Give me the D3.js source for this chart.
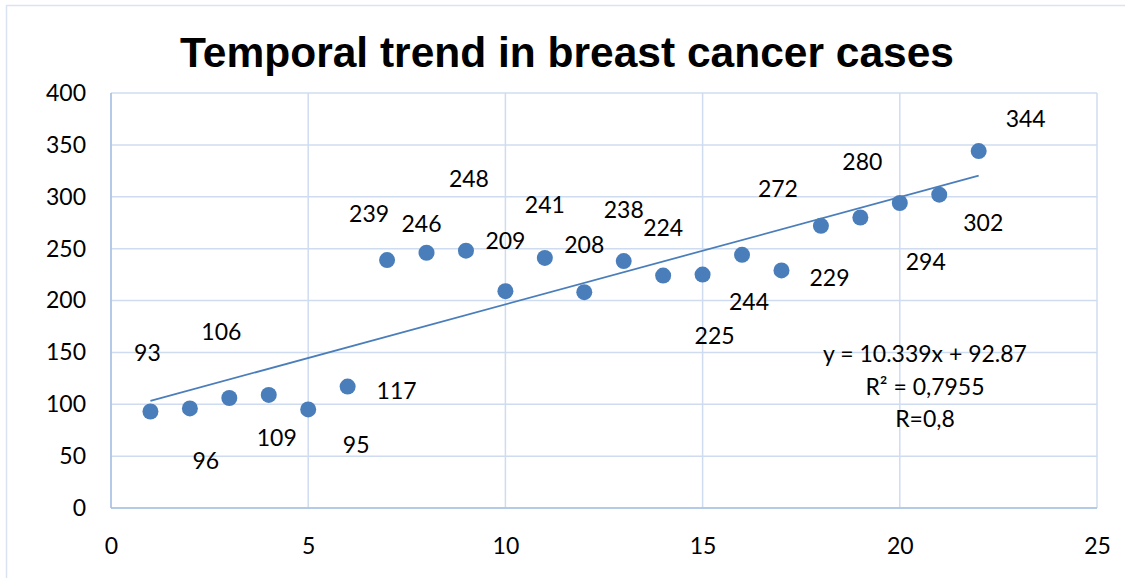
<!DOCTYPE html>
<html>
<head>
<meta charset="utf-8">
<script src="https://cdn.jsdelivr.net/npm/d3@7"></script>
<style>
body{margin:0;background:#fff;}
</style>
</head>
<body>
<div id="chart"></div>
<script>
// cases per period (x = 1..22)
var periods = [1,2,3,4,5,6,7,8,9,10,11,12,13,14,15,16,17,18,19,20,21,22];
var cases = [93,96,106,109,95,117,239,246,248,209,241,208,238,224,225,244,229,272,280,294,302,344];
var xTicks = [0,5,10,15,20,25];
var yTicks = [0,50,100,150,200,250,300,350,400];
var fitLines = ["y = 10.339x + 92.87", "R\u00b2 = 0,7955", "R=0,8"];

// label nudges (px) so the numbers sit like the original
var labelDx = [-3,16,-8,8,48,49,-18,-5,3,0,0,0,0,0,12,7,48,-43,2,26,44,47];
var labelDy = [-60,52,-67,42,35,3,-47,-30,-73,-51,-54,-48,-52,-49,60,46,7,-38,-57,58,27,-33];

var w = 1125, h = 578;
var padL = 111, padR = 1097, padT = 93, padB = 508;
var blue = "#4a7ebb";
var font = "Lato, 'Open Sans', sans-serif";

var svg = d3.select("#chart")
	.append("svg")
	.attr("width", w)
	.attr("height", h)
	.style("background", "#FFFFFF");

// outer frame
svg.append("rect")
	.attr("x", 6.5).attr("y", 5.5)
	.attr("width", w + 10).attr("height", h + 10)
	.attr("fill", "none")
	.attr("stroke", "#d9e3f1")
	.attr("stroke-width", 1.5);

var xscale = d3.scaleLinear().domain([0,25]).range([padL,padR]);
var yscale = d3.scaleLinear().domain([0,400]).range([padB,padT]);

// grid
svg.append("g").selectAll("line")
	.data(yTicks)
	.enter().append("line")
	.attr("x1", padL).attr("x2", padR)
	.attr("y1", function(d){return yscale(d)})
	.attr("y2", function(d){return yscale(d)})
	.attr("stroke", "#cfdcf0").attr("stroke-width", 1.5);

svg.append("g").selectAll("line")
	.data(xTicks)
	.enter().append("line")
	.attr("x1", function(d){return xscale(d)})
	.attr("x2", function(d){return xscale(d)})
	.attr("y1", padT).attr("y2", padB)
	.attr("stroke", "#cfdcf0").attr("stroke-width", 1.5);

// axis lines
svg.append("line")
	.attr("x1", padL).attr("x2", padR)
	.attr("y1", padB).attr("y2", padB)
	.attr("stroke", "#a9c0e2").attr("stroke-width", 1.5);
svg.append("line")
	.attr("x1", padL).attr("x2", padL)
	.attr("y1", padT).attr("y2", padB)
	.attr("stroke", "#a9c0e2").attr("stroke-width", 1.5);

// tick labels via d3 axes, domain/ticks hidden
var yAxis = svg.append("g")
	.attr("transform", "translate(" + padL + ",0)")
	.call(d3.axisLeft(yscale).tickValues(yTicks).tickSize(0).tickPadding(25));
var xAxis = svg.append("g")
	.attr("transform", "translate(0," + padB + ")")
	.call(d3.axisBottom(xscale).tickValues(xTicks).tickSize(0).tickPadding(30));
[yAxis, xAxis].forEach(function(a){
	a.select(".domain").remove();
	a.selectAll("text")
		.style("font-family", font)
		.style("font-size", "23px")
		.style("fill", "#000");
});

// title
svg.append("text")
	.attr("x", 567).attr("y", 67)
	.attr("text-anchor", "middle")
	.style("font-family", "'Liberation Sans', Arial, sans-serif")
	.style("font-weight", "bold")
	.style("font-size", "42.5px")
	.text("Temporal trend in breast cancer cases");

// linear trend from least squares
var mx = d3.mean(periods), my = d3.mean(cases);
var sxy = d3.sum(periods, function(x,i){return (x-mx)*(cases[i]-my)});
var sxx = d3.sum(periods, function(x){return (x-mx)*(x-mx)});
var slope = sxy/sxx, icpt = my - slope*mx;
var x0 = d3.min(periods), x1 = d3.max(periods);

svg.append("line")
	.attr("x1", xscale(x0)).attr("y1", yscale(icpt + slope*x0))
	.attr("x2", xscale(x1)).attr("y2", yscale(icpt + slope*x1))
	.attr("stroke", blue).attr("stroke-width", 1.75);

// points
svg.append("g").selectAll("circle")
	.data(cases)
	.enter().append("circle")
	.attr("cx", function(d,i){return xscale(periods[i])})
	.attr("cy", function(d){return yscale(d)})
	.attr("r", 8)
	.attr("fill", blue);

// value labels
svg.append("g").selectAll("text")
	.data(cases)
	.enter().append("text")
	.attr("x", function(d,i){return xscale(periods[i]) + labelDx[i]})
	.attr("y", function(d,i){return yscale(d) + labelDy[i]})
	.attr("text-anchor", "middle")
	.attr("dominant-baseline", "central")
	.style("font-family", font)
	.style("font-size", "23px")
	.text(function(d){return d});

// equation box
svg.append("g").selectAll("text")
	.data(fitLines)
	.enter().append("text")
	.attr("x", 925)
	.attr("y", function(d,i){return 353 + i*32.5})
	.attr("text-anchor", "middle")
	.attr("dominant-baseline", "central")
	.style("font-family", font)
	.style("font-size", "23px")
	.text(function(d){return d});
</script>
</body>
</html>
